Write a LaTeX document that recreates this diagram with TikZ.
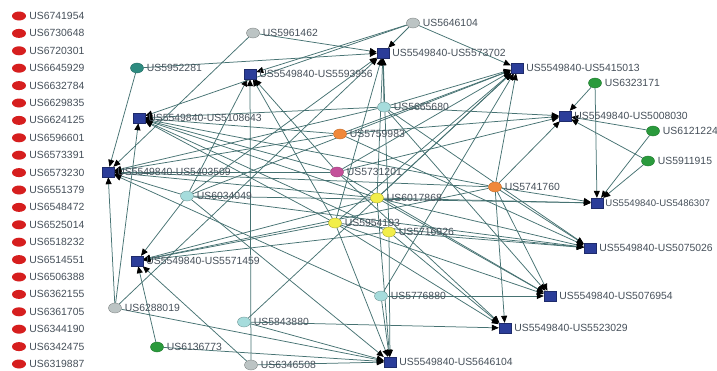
\documentclass[tikz,border=0pt]{standalone}
\usepackage{fontspec}
\setmainfont{Liberation Sans}
\usetikzlibrary{shapes.geometric,arrows.meta}
\pgfdeclarelayer{bg}\pgfdeclarelayer{paper}\pgfsetlayers{paper,bg,main}
\definecolor{edgec}{HTML}{467272}
\definecolor{txtc}{HTML}{46505A}
\definecolor{redc}{HTML}{D61E1E}
\definecolor{greyc}{HTML}{BCC4C4}
\definecolor{cyanc}{HTML}{A6DCDC}
\definecolor{tealc}{HTML}{2E8B80}
\definecolor{orangec}{HTML}{F0883A}
\definecolor{magc}{HTML}{C4509A}
\definecolor{yelc}{HTML}{F2EE4A}
\definecolor{greenc}{HTML}{2A9A3C}
\definecolor{bluec}{HTML}{2B3D99}
\begin{document}
\begin{tikzpicture}[x=1pt,y=-1pt,
  lbl/.style={font=\fontsize{10.4}{10.4}\selectfont, text=txtc, inner sep=1pt},
  redpat/.style={ellipse, fill=redc, minimum width=14pt, minimum height=9pt, inner sep=0pt,
     label={[lbl,label distance=2pt]right:#1}},
  pat/.style={ellipse, minimum width=13pt, minimum height=10pt, inner sep=0pt, line width=0.4pt,
     label={[lbl,label distance=2pt]right:#1}},
  greyn/.style={pat=#1, fill=greyc, draw=greyc!70!black},
  cyann/.style={pat=#1, fill=cyanc, draw=cyanc!70!black},
  tealn/.style={pat=#1, fill=tealc, draw=tealc!80!black},
  orangen/.style={pat=#1, fill=orangec, draw=orangec!80!black},
  magn/.style={pat=#1, fill=magc, draw=magc!80!black},
  yeln/.style={pat=#1, fill=yelc, draw=yelc!70!black},
  greenn/.style={pat=#1, fill=greenc, draw=greenc!80!black},
  pairbox/.style={rectangle, fill=bluec, draw=bluec!70!black, minimum width=12pt, minimum height=10pt,
     inner sep=0pt},
  pairn/.style={pairbox, label={[lbl,label distance=2pt]right:#1}},
  lnk/.style={draw=edgec, line width=0.75pt, -{Triangle[length=7pt,width=6pt,color=black]}}]
\useasboundingbox (0,0) rectangle (717,370);
\begin{pgfonlayer}{paper}
\fill[white] (0,0) rectangle (717,370);
\end{pgfonlayer}
% left list
\foreach \t [count=\i from 0] in {US6741954,US6730648,US6720301,US6645929,US6632784,US6629835,US6624125,US6596601,US6573391,US6573230,US6551379,US6548472,US6525014,US6518232,US6514551,US6506388,US6362155,US6361705,US6344190,US6342475,US6319887}
  \node[redpat=\t] (r\i) at (19,{16+17.4*\i}) {};
% patents
\node[tealn=US5952281] (c52281) at (137,68) {};
\node[greyn=US5961462] (c61462) at (253,33) {};
\node[greyn=US5646104] (c46104) at (413,23) {};
\node[cyann=US5665680] (c65680) at (384,107) {};
\node[orangen=US5759983] (c59983) at (340,134) {};
\node[magn=US5731201] (c31201) at (337,172) {};
\node[cyann=US6034049] (c34049) at (187,196) {};
\node[yeln=US6017868] (c17868) at (377,198) {};
\node[yeln=US5954193] (c54193) at (335,223) {};
\node[yeln=US5716926] (c16926) at (389,232) {};
\node[orangen=US5741760] (c41760) at (495,187) {};
\node[greyn=US6288019] (c88019) at (115,308) {};
\node[greenn=US6136773] (c36773) at (157,347) {};
\node[cyann=US5843880] (c43880) at (244,322) {};
\node[cyann=US5776880] (c76880) at (381,296) {};
\node[greyn=US6346508] (c46508) at (251,365) {};
\node[greenn=US6323171] (c23171) at (595,83) {};
\node[greenn=US6121224] (c21224) at (653,131) {};
\node[greenn=US5911915] (c11915) at (648,161) {};
% pairs
\node[pairn=US5549840-US5573702] (s73702) at (383,53) {};
\node[pairn=US5549840-US5593956] (s93956) at (250,74) {};
\node[pairn=US5549840-US5108643] (s08643) at (139,118) {};
\node[pairn=US5549840-US5403509] (s03509) at (108,172) {};
\node[pairn=US5549840-US5415013] (s15013) at (517,68) {};
\node[pairn=US5549840-US5008030] (s08030) at (565,116) {};
\node[pairbox, label={[lbl,font=\fontsize{9.6}{9.6}\selectfont,label distance=1pt]right:US5549840-US5486307}] (s86307) at (597,203) {};
\node[pairn=US5549840-US5075026] (s75026) at (590,248) {};
\node[pairn=US5549840-US5076954] (s76954) at (550,296) {};
\node[pairn=US5549840-US5523029] (s23029) at (505,328) {};
\node[pairn=US5549840-US5646104] (s46104) at (390,362) {};
\node[pairn=US5549840-US5571459] (s71459) at (137,261) {};
\begin{pgfonlayer}{bg}
\foreach \tg/\srcs in {
  s73702/{c61462,c52281,c46104,c65680,c17868,c16926,c54193,c34049,c88019},
  s93956/{c46104,c46508,c31201,c54193,c34049},
  s08643/{c88019,c59983,c65680,c31201,c17868,c16926,c54193,c41760,c46104},
  s03509/{c52281,c61462,c88019,c31201,c59983,c17868,c41760,c34049,c65680,c76880},
  s15013/{c46104,c41760,c65680,c59983,c31201,c17868,c54193,c34049,c76880,c43880},
  s08030/{c23171,c21224,c11915,c41760,c59983,c65680,c31201},
  s86307/{c23171,c21224,c11915,c17868,c34049,c41760},
  s75026/{c16926,c17868,c59983,c65680,c54193,c34049,c41760},
  s76954/{c76880,c41760,c17868,c31201,c65680,c54193},
  s23029/{c43880,c54193,c31201,c41760,c16926},
  s46104/{c54193,c76880,c16926,c17868,c43880,c46508,c34049,c88019,c36773},
  s71459/{c34049,c36773,c46508,c16926,c17868,c41760,c54193}}
  {\foreach \sr in \srcs {\draw[lnk] (\sr) -- (\tg);}}
\end{pgfonlayer}
\end{tikzpicture}
\end{document}
